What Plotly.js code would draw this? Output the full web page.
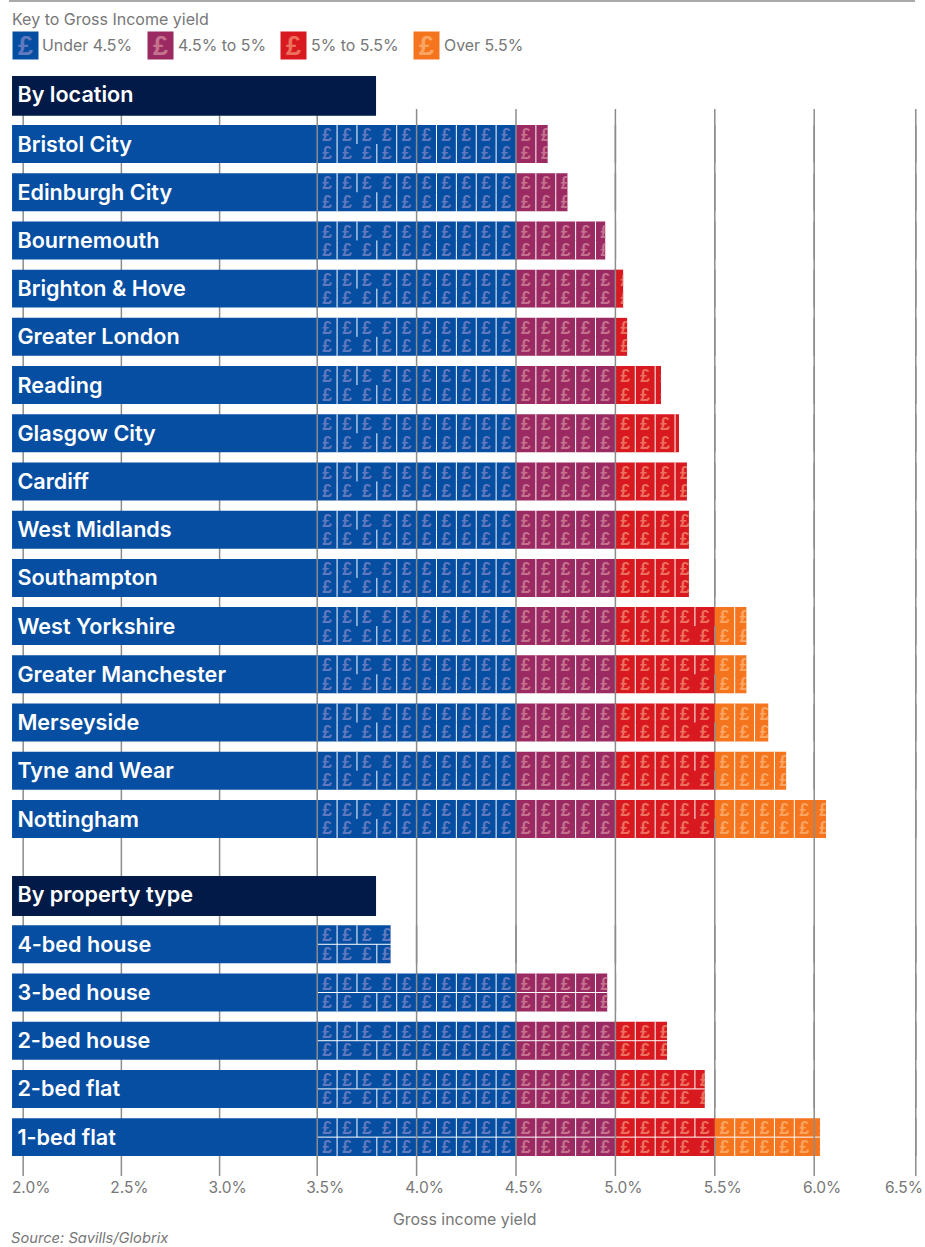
<!DOCTYPE html>
<html>
<head>
<meta charset="utf-8">
<script src="https://cdn.plot.ly/plotly-3.0.1.min.js"></script>
<style>html,body{margin:0;padding:0;background:#fff}</style>
</head>
<body>
<div id="chart" style="width:925px;height:1247px"></div>
<script>
// Gross income yield per location and property type (percent)
const locationNames = ['Bristol City','Edinburgh City','Bournemouth','Brighton & Hove','Greater London','Reading','Glasgow City','Cardiff','West Midlands','Southampton','West Yorkshire','Greater Manchester','Merseyside','Tyne and Wear','Nottingham'];
const locationYields = [4.66,4.76,4.95,5.04,5.06,5.23,5.32,5.36,5.37,5.37,5.66,5.66,5.77,5.86,6.06];
const propertyNames = ['4-bed house','3-bed house','2-bed house','2-bed flat','1-bed flat'];
const propertyYields = [3.87,4.96,5.26,5.45,6.03];
const groupNames = ['By location','By property type'];
const bandNames = ['Under 4.5%','4.5% to 5%','5% to 5.5%','Over 5.5%'];
const bandEdges = [3.5,4.5,5.0,5.5,7.0];
const bandColors = ['#064ea2','#9b2a62','#d81920','#f5751f'];
const glyphColors = ['#6179be','#c5728f','#ec705d','#fba562'];
// The scale is hand-set on the page: the lowest and highest ticks sit a little off the even spacing
const tickValues = [2.021,2.515,3.009,3.5,4,4.5,5,5.5,6,6.511];
const tickLabels = ['2.0%','2.5%','3.0%','3.5%','4.0%','4.5%','5.0%','5.5%','6.0%',''];

const NAVY = '#021a47', GREY = '#777777', GRID = '#8c8c8c';
const FONT = 'Inter, "Liberation Sans", sans-serif';
const GLYPH_FONT = '"Liberation Sans", Arial, sans-serif';
const W = 925, H = 1247, TOP = 76, BOTTOM = 1176, GRID_TOP = 109;
const PX_PER_UNIT = 198.8, PX_AT_START = 317.2;
const TILE = 0.1, TILE_START = 3.5, LABEL_START = 1.965, HEADER_END = 3.796;
const PX_PER_ROW = 48.21, PX_AT_ROW0 = 144;

// Row placement, in row units, on the numeric y axis
const locationRows = locationNames.map((_, i) => i);
const propertyRows = propertyNames.map((_, i) => 16.6 + i);
const groupRows = [-1, 15.6];
const names = locationNames.concat(propertyNames);
const yields = locationYields.concat(propertyYields);
const rows = locationRows.concat(propertyRows);
const isProperty = names.map((_, i) => i >= locationNames.length);
const HALF = 0.394, GLYPH_NUDGE = 0.04, LABEL_NUDGE = 0.045, HEADER_NUDGE = 0.01;

const traces = [];

// Section headers and the label part of every bar
traces.push({type:'bar', orientation:'h', y:groupRows, x:groupRows.map(() => HEADER_END-LABEL_START), base:LABEL_START,
  width:0.83, marker:{color:NAVY,line:{width:0}}, hoverinfo:'skip', showlegend:false});
traces.push({type:'bar', orientation:'h', y:rows, x:rows.map(() => TILE_START-LABEL_START), base:LABEL_START,
  width:HALF*2, marker:{color:bandColors[0],line:{width:0}}, hoverinfo:'skip', showlegend:false});

// Coloured yield bands
bandNames.forEach((name, b) => {
  const lo = bandEdges[b], hi = bandEdges[b+1];
  const ys = [], xs = [], bs = [];
  yields.forEach((v, i) => { if (v > lo) { ys.push(rows[i]); bs.push(lo); xs.push(Math.min(v, hi) - lo); } });
  traces.push({type:'bar', orientation:'h', y:ys, x:xs, base:bs, width:HALF*2, name,
    marker:{color:bandColors[b],line:{width:0}}, hoverinfo:'skip', showlegend:false});
});

// One pound sign per tile, two rows of tiles per bar
bandNames.forEach((name, b) => {
  const xs = [], ys = [];
  yields.forEach((v, i) => {
    for (let n = 0; TILE_START + n*TILE < v - 1e-6; n++) {
      const left = TILE_START + n*TILE;
      if (left >= bandEdges[b] - 1e-6 && left < bandEdges[b+1] - 1e-6) {
        xs.push(left + TILE/2, left + TILE/2);
        ys.push(rows[i] - 0.19 + GLYPH_NUDGE, rows[i] + 0.19 + GLYPH_NUDGE);
      }
    }
  });
  traces.push({type:'scatter', mode:'text', x:xs, y:ys, text:xs.map(() => '£'), textposition:'middle center',
    textfont:{family:GLYPH_FONT, size:17.5, color:glyphColors[b], weight:700},
    hoverinfo:'skip', showlegend:false});
});

// White patch after each bar end so the last pound sign is cut off at the value
{
  const xs = [], ys = [];
  yields.forEach((v, i) => {
    const end = Math.ceil(v/TILE - 1e-6)*TILE;
    if (end > v) {
      xs.push(v, end, end, v, v, null);
      ys.push(rows[i]-HALF, rows[i]-HALF, rows[i]+HALF, rows[i]+HALF, rows[i]-HALF, null);
    }
  });
  traces.push({type:'scatter', mode:'lines', x:xs, y:ys, fill:'toself', fillcolor:'#ffffff', line:{width:0},
    hoverinfo:'skip', showlegend:false});
}

// White separators between tiles; a few are left out so neighbouring tiles join
{
  const xs = [], ys = [];
  const seg = (x0, y0, x1, y1) => { xs.push(x0, x1, null); ys.push(y0, y1, null); };
  yields.forEach((v, i) => {
    const y = rows[i];
    for (let n = 1; TILE_START + n*TILE < v - 1e-6; n++) {
      const x = +(TILE_START + n*TILE).toFixed(1);
      if (Math.abs(x*2 - Math.round(x*2)) < 1e-6) continue;
      if (x !== 3.8) seg(x, y-HALF, x, y);
      if (x !== 3.7 && x !== 5.4) seg(x, y, x, y+HALF);
    }
    if (isProperty[i]) seg(TILE_START, y, v, y);
  });
  traces.push({type:'scatter', mode:'lines', x:xs, y:ys, line:{color:'#ffffff',width:1}, hoverinfo:'skip', showlegend:false});
}

// Grid lines continue over the tiles from 3.5% upwards; on bars that pass it, the 5.5% line skips the upper tile row
{
  const xs = [], ys = [];
  rows.forEach((y, i) => {
    tickValues.filter(t => t >= TILE_START).forEach(t => {
      xs.push(t, t, null);
      ys.push(t === 5.5 && yields[i] > 5.5 ? y : y-HALF, y+HALF, null);
    });
  });
  traces.push({type:'scatter', mode:'lines', x:xs, y:ys, line:{color:GRID,width:1.5}, hoverinfo:'skip', showlegend:false});
}

// Row and section labels, white on the bars
const labelX0 = LABEL_START + 0.027;
traces.push({type:'scatter', mode:'text', x:rows.map(() => labelX0), y:rows.map(r => r + LABEL_NUDGE),
  text:names, textposition:'middle right',
  textfont:{family:FONT,size:21.6,color:'#ffffff',weight:600}, hoverinfo:'skip', showlegend:false});
traces.push({type:'scatter', mode:'text', x:groupRows.map(() => labelX0), y:groupRows.map(r => r + HEADER_NUDGE),
  text:groupNames, textposition:'middle right',
  textfont:{family:FONT,size:21.6,color:'#ffffff',weight:600}, hoverinfo:'skip', showlegend:false});

const py = p => (BOTTOM - p) / (BOTTOM - TOP);
const note = (text, x, y, opts) => Object.assign({text, xref:'paper', yref:'paper', x:x/W, y:py(y), showarrow:false,
  xanchor:'left', yanchor:'middle', font:{family:FONT,size:15.9,color:GREY}}, opts || {});

const swatchX = [12,147,280,413];
const labelX = [40,176,309,442];
const annotations = [
  note('Key to Gross Income yield', 10, 19, {font:{family:FONT,size:16,color:GREY}}),
  note('Gross income yield', 464.5, 1219, {xanchor:'center', font:{family:FONT,size:15.9,color:GREY}}),
  note('Source: Savills/Globrix', 9, 1238, {font:{family:FONT,size:14.7,color:GREY,style:'italic'}}),
  note('6.5%', 904, 1187, {xanchor:'center', font:{family:FONT,size:15.5,color:GREY}})
];
bandNames.forEach((name, b) => {
  annotations.push(note('£', swatchX[b], 46, {bgcolor:bandColors[b], width:25, height:27, align:'center', borderpad:0,
    font:{family:GLYPH_FONT, size:27, color:glyphColors[b], weight:700}}));
  annotations.push(note(name, labelX[b], 45));
});

// Grid lines sit under the bars and start just above the first row
const gridShapes = tickValues.map(t => ({type:'line', layer:'below', xref:'x', yref:'paper', x0:t, x1:t,
  y0:0, y1:py(GRID_TOP), line:{color:GRID,width:1.5}}));

const layout = {
  width:W, height:H, margin:{l:0,r:0,t:TOP,b:H-BOTTOM,pad:0},
  paper_bgcolor:'#ffffff', plot_bgcolor:'#ffffff', showlegend:false, barmode:'overlay', hovermode:false,
  xaxis:{type:'linear', range:[TILE_START-PX_AT_START/PX_PER_UNIT, TILE_START+(W-PX_AT_START)/PX_PER_UNIT],
    tickmode:'array', tickvals:tickValues, ticktext:tickLabels,
    showgrid:false, zeroline:false, showline:false, ticks:'', ticklabelshift:8,
    tickfont:{family:FONT,size:15.5,color:GREY}, fixedrange:true},
  yaxis:{type:'linear', range:[(BOTTOM-PX_AT_ROW0)/PX_PER_ROW, (TOP-PX_AT_ROW0)/PX_PER_ROW], showgrid:false, zeroline:false, showline:false,
    showticklabels:false, ticks:'', fixedrange:true},
  shapes:gridShapes.concat([{type:'line', xref:'paper', yref:'paper', x0:9/W, x1:915/W, y0:py(1), y1:py(1), line:{color:GRID,width:1.5}}]),
  annotations
};

Plotly.newPlot('chart', traces, layout, {displayModeBar:false, staticPlot:true});
</script>
</body>
</html>
